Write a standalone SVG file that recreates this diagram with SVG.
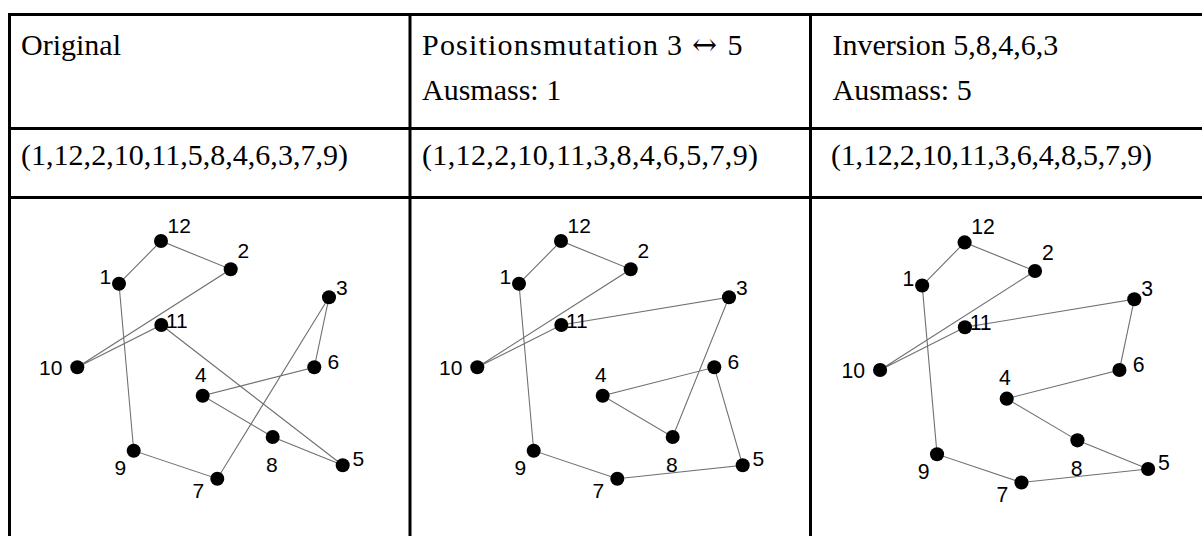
<svg xmlns="http://www.w3.org/2000/svg" width="1202" height="536" viewBox="0 0 1202 536">
<style>
.grid{stroke:#000;stroke-width:3;fill:none}
.cell{font-family:"Liberation Serif","Times New Roman",serif;font-size:30px;fill:#000}
.arr{font-family:"DejaVu Serif",serif;font-size:30px}
.edge{stroke:#707070;stroke-width:1.1;fill:none}
.dot{fill:#000}
.lbl{font-family:"Liberation Sans",Arial,sans-serif;font-size:21px;fill:#000}
</style>
<rect width="1202" height="536" fill="#fff"/>
<g id="table">
<line class="grid" x1="8" y1="14.5" x2="1202" y2="14.5"/>
<line class="grid" x1="8" y1="128.5" x2="1202" y2="128.5"/>
<line class="grid" x1="8" y1="197.5" x2="1202" y2="197.5"/>
<line class="grid" x1="9.5" y1="13" x2="9.5" y2="536"/>
<line class="grid" x1="410" y1="13" x2="410" y2="536"/>
<line class="grid" x1="810.5" y1="13" x2="810.5" y2="536"/>
</g>
<g id="cells">
<text class="cell" x="21" y="55">Original</text>
<text class="cell" y="55"><tspan x="422" textLength="236">Positionsmutation</tspan><tspan x="659.5"> 3</tspan><tspan x="682.5" class="arr"> ↔</tspan><tspan x="720"> 5</tspan></text>
<text class="cell" x="422" y="99.5">Ausmass: 1</text>
<text class="cell" x="832.5" y="55">Inversion 5,8,4,6,3</text>
<text class="cell" x="832.5" y="99.5">Ausmass: 5</text>
<text class="cell" x="21" y="165" textLength="327">(1,12,2,10,11,5,8,4,6,3,7,9)</text>
<text class="cell" x="422" y="165" textLength="336">(1,12,2,10,11,3,8,4,6,5,7,9)</text>
<text class="cell" x="831" y="165" textLength="321">(1,12,2,10,11,3,6,4,8,5,7,9)</text>
</g>

<!-- Panel 1: Original -->
<g id="panel1">
<g id="p1-connectors">
<polyline class="edge" points="119,283.7 161,241 230.7,269.3 77.3,367.3 161.3,325 342.7,465.3 272.7,437 202.7,395.7 314.3,367.3 329,297.3 217.3,478.7 133.7,450.7 119,283.7"/>
</g>
<g id="p1-n1"><circle class="dot" cx="119" cy="283.7" r="7"/><text class="lbl" x="99.5" y="284">1</text></g>
<g id="p1-n2"><circle class="dot" cx="230.7" cy="269.3" r="7"/><text class="lbl" x="237.5" y="258">2</text></g>
<g id="p1-n3"><circle class="dot" cx="329" cy="297.3" r="7"/><text class="lbl" x="336" y="294.5">3</text></g>
<g id="p1-n4"><circle class="dot" cx="202.7" cy="395.7" r="7"/><text class="lbl" x="195" y="382">4</text></g>
<g id="p1-n5"><circle class="dot" cx="342.7" cy="465.3" r="7"/><text class="lbl" x="352.5" y="466">5</text></g>
<g id="p1-n6"><circle class="dot" cx="314.3" cy="367.3" r="7"/><text class="lbl" x="327.5" y="369">6</text></g>
<g id="p1-n7"><circle class="dot" cx="217.3" cy="478.7" r="7"/><text class="lbl" x="192.5" y="498">7</text></g>
<g id="p1-n8"><circle class="dot" cx="272.7" cy="437" r="7"/><text class="lbl" x="266" y="472">8</text></g>
<g id="p1-n9"><circle class="dot" cx="133.7" cy="450.7" r="7"/><text class="lbl" x="114.5" y="475">9</text></g>
<g id="p1-n10"><circle class="dot" cx="77.3" cy="367.3" r="7"/><text class="lbl" x="39" y="375">10</text></g>
<g id="p1-n11"><circle class="dot" cx="161.3" cy="325" r="7"/><text class="lbl" x="166" y="328">11</text></g>
<g id="p1-n12"><circle class="dot" cx="161" cy="241" r="7"/><text class="lbl" x="167.5" y="233">12</text></g>
</g>

<!-- Panel 2: Positionsmutation -->
<g id="panel2" transform="translate(400,0)">
<g id="p2-connectors">
<polyline class="edge" points="119,283.7 161,241 230.7,269.3 77.3,367.3 161.3,325 329,297.3 272.7,437 202.7,395.7 314.3,367.3 342.7,465.3 217.3,478.7 133.7,450.7 119,283.7"/>
</g>
<g id="p2-n1"><circle class="dot" cx="119" cy="283.7" r="7"/><text class="lbl" x="99.5" y="284">1</text></g>
<g id="p2-n2"><circle class="dot" cx="230.7" cy="269.3" r="7"/><text class="lbl" x="237.5" y="258">2</text></g>
<g id="p2-n3"><circle class="dot" cx="329" cy="297.3" r="7"/><text class="lbl" x="336" y="294.5">3</text></g>
<g id="p2-n4"><circle class="dot" cx="202.7" cy="395.7" r="7"/><text class="lbl" x="195" y="382">4</text></g>
<g id="p2-n5"><circle class="dot" cx="342.7" cy="465.3" r="7"/><text class="lbl" x="352.5" y="466">5</text></g>
<g id="p2-n6"><circle class="dot" cx="314.3" cy="367.3" r="7"/><text class="lbl" x="327.5" y="369">6</text></g>
<g id="p2-n7"><circle class="dot" cx="217.3" cy="478.7" r="7"/><text class="lbl" x="192.5" y="498">7</text></g>
<g id="p2-n8"><circle class="dot" cx="272.7" cy="437" r="7"/><text class="lbl" x="266" y="472">8</text></g>
<g id="p2-n9"><circle class="dot" cx="133.7" cy="450.7" r="7"/><text class="lbl" x="114.5" y="475">9</text></g>
<g id="p2-n10"><circle class="dot" cx="77.3" cy="367.3" r="7"/><text class="lbl" x="39" y="375">10</text></g>
<g id="p2-n11"><circle class="dot" cx="161.3" cy="325" r="7"/><text class="lbl" x="166" y="328">11</text></g>
<g id="p2-n12"><circle class="dot" cx="161" cy="241" r="7"/><text class="lbl" x="167.5" y="233">12</text></g>
</g>

<!-- Panel 3: Inversion -->
<g id="panel3" transform="translate(802,-1) scale(1.01)">
<g id="p3-connectors">
<polyline class="edge" points="119,283.7 161,241 230.7,269.3 77.3,367.3 161.3,325 329,297.3 314.3,367.3 202.7,395.7 272.7,437 342.7,465.3 217.3,478.7 133.7,450.7 119,283.7"/>
</g>
<g id="p3-n1"><circle class="dot" cx="119" cy="283.7" r="7"/><text class="lbl" x="99.5" y="284">1</text></g>
<g id="p3-n2"><circle class="dot" cx="230.7" cy="269.3" r="7"/><text class="lbl" x="237.5" y="258">2</text></g>
<g id="p3-n3"><circle class="dot" cx="329" cy="297.3" r="7"/><text class="lbl" x="336" y="294.5">3</text></g>
<g id="p3-n4"><circle class="dot" cx="202.7" cy="395.7" r="7"/><text class="lbl" x="195" y="382">4</text></g>
<g id="p3-n5"><circle class="dot" cx="342.7" cy="465.3" r="7"/><text class="lbl" x="352.5" y="466">5</text></g>
<g id="p3-n6"><circle class="dot" cx="314.3" cy="367.3" r="7"/><text class="lbl" x="327.5" y="369">6</text></g>
<g id="p3-n7"><circle class="dot" cx="217.3" cy="478.7" r="7"/><text class="lbl" x="192.5" y="498">7</text></g>
<g id="p3-n8"><circle class="dot" cx="272.7" cy="437" r="7"/><text class="lbl" x="266" y="472">8</text></g>
<g id="p3-n9"><circle class="dot" cx="133.7" cy="450.7" r="7"/><text class="lbl" x="114.5" y="475">9</text></g>
<g id="p3-n10"><circle class="dot" cx="77.3" cy="367.3" r="7"/><text class="lbl" x="39" y="375">10</text></g>
<g id="p3-n11"><circle class="dot" cx="161.3" cy="325" r="7"/><text class="lbl" x="166" y="328">11</text></g>
<g id="p3-n12"><circle class="dot" cx="161" cy="241" r="7"/><text class="lbl" x="167.5" y="233">12</text></g>
</g>
</svg>
